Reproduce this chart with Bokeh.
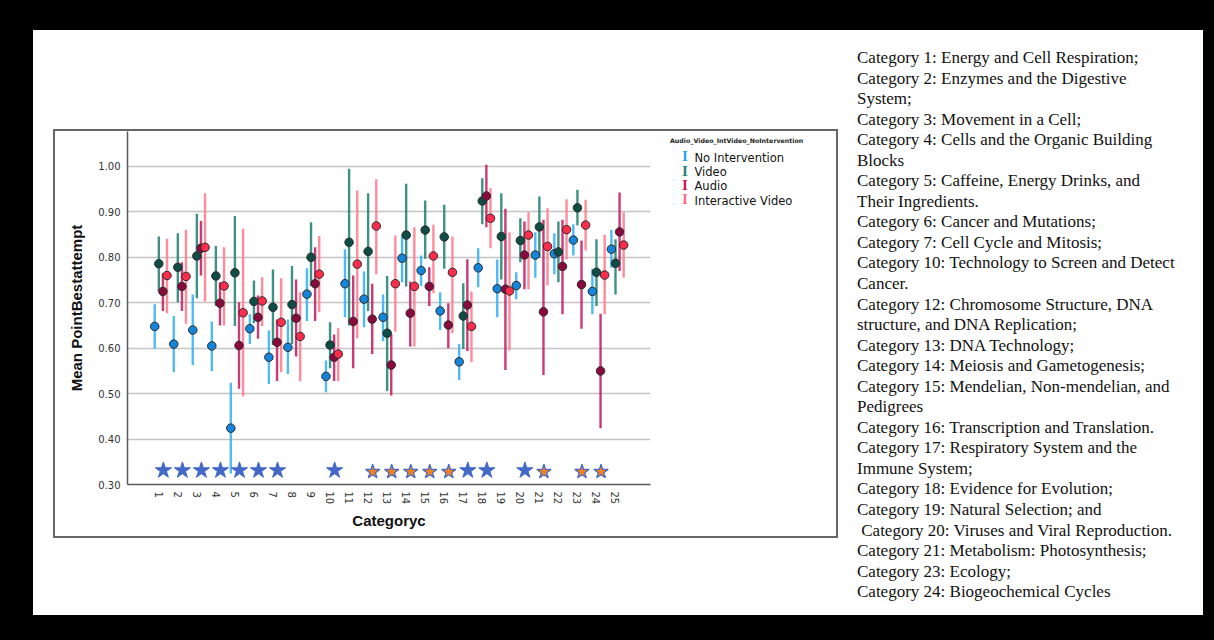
import math
from bokeh.plotting import figure
from bokeh.models import Range1d, FixedTicker, NumeralTickFormatter, ColumnDataSource, Div, Spacer
from bokeh.layouts import row, column
from bokeh.embed import file_html
from bokeh.resources import INLINE

# ---------------- data ----------------
categories = list(range(1, 26))
groups = ["No Intervention", "Video", "Audio", "Interactive Video"]
legend_title = "Audio_Video_IntVideo_NoIntervention"

no_int_mean = [0.648, 0.609, 0.640, 0.605, 0.424, 0.643, 0.580, 0.602, 0.719, 0.538, 0.742, 0.708, 0.668,
               0.798, 0.771, 0.682, 0.570, 0.777, 0.731, 0.738, 0.805, 0.808, 0.838, 0.725, 0.818]
no_int_lo = [0.599, 0.547, 0.563, 0.550, 0.324, 0.609, 0.521, 0.543, 0.660, 0.503, 0.668, 0.646, 0.616,
             0.745, 0.737, 0.640, 0.530, 0.734, 0.668, 0.708, 0.755, 0.763, 0.804, 0.675, 0.777]
no_int_hi = [0.697, 0.671, 0.718, 0.659, 0.524, 0.675, 0.639, 0.663, 0.776, 0.573, 0.818, 0.769, 0.718,
             0.850, 0.804, 0.723, 0.609, 0.820, 0.795, 0.767, 0.855, 0.853, 0.873, 0.775, 0.860]

video_mean = [0.786, 0.778, 0.803, 0.759, 0.766, 0.703, 0.690, 0.696, 0.800, 0.607, 0.833, 0.813, 0.633,
              0.849, 0.860, 0.845, 0.671, 0.924, 0.846, 0.837, 0.867, 0.812, 0.909, 0.767, 0.787]
video_lo = [0.726, 0.701, 0.710, 0.693, 0.649, 0.655, 0.607, 0.609, 0.737, 0.556, 0.650, 0.682, 0.506,
            0.736, 0.797, 0.775, 0.598, 0.873, 0.751, 0.789, 0.799, 0.745, 0.870, 0.693, 0.718]
video_hi = [0.846, 0.853, 0.896, 0.825, 0.891, 0.749, 0.773, 0.781, 0.877, 0.657, 0.995, 0.941, 0.759,
            0.962, 0.925, 0.916, 0.743, 0.974, 0.941, 0.886, 0.934, 0.879, 0.949, 0.840, 0.840]

audio_mean = [0.725, 0.736, 0.820, 0.699, 0.606, 0.668, 0.613, 0.666, 0.742, 0.580, 0.659, 0.664, 0.563,
              0.677, 0.736, 0.651, 0.695, 0.935, 0.730, 0.805, 0.680, 0.780, 0.740, 0.550, 0.856]
audio_lo = [0.682, 0.682, 0.760, 0.650, 0.511, 0.621, 0.528, 0.582, 0.660, 0.528, 0.556, 0.587, 0.496,
            0.604, 0.693, 0.600, 0.594, 0.866, 0.552, 0.730, 0.541, 0.675, 0.643, 0.424, 0.770]
audio_hi = [0.765, 0.789, 0.880, 0.745, 0.701, 0.716, 0.663, 0.751, 0.822, 0.630, 0.760, 0.742, 0.631,
            0.747, 0.778, 0.699, 0.796, 1.004, 0.907, 0.879, 0.883, 0.883, 0.837, 0.676, 0.943]

intvid_mean = [0.760, 0.758, 0.822, 0.737, 0.678, 0.704, 0.657, 0.626, 0.763, 0.587, 0.785, 0.869, 0.742,
               0.736, 0.803, 0.767, 0.648, 0.886, 0.726, 0.849, 0.824, 0.861, 0.871, 0.761, 0.827]
intvid_lo = [0.677, 0.654, 0.703, 0.650, 0.494, 0.649, 0.547, 0.527, 0.679, 0.527, 0.622, 0.763, 0.637,
             0.604, 0.721, 0.633, 0.569, 0.820, 0.595, 0.730, 0.738, 0.795, 0.815, 0.675, 0.755]
intvid_hi = [0.841, 0.861, 0.941, 0.822, 0.863, 0.756, 0.754, 0.723, 0.847, 0.644, 0.947, 0.972, 0.848,
             0.866, 0.872, 0.846, 0.725, 0.952, 0.855, 0.899, 0.908, 0.928, 0.927, 0.850, 0.899]

blue_star_cats = [1, 2, 3, 4, 5, 6, 7, 10, 17, 18, 20]
orange_star_cats = [12, 13, 14, 15, 16, 21, 23, 24]
star_level = 0.331

y_ticks = [0.30, 0.40, 0.50, 0.60, 0.70, 0.80, 0.90, 1.00]

category_notes = [
    "Category 1: Energy and Cell Respiration;",
    "Category 2: Enzymes and the Digestive",
    "System;",
    "Category 3: Movement in a Cell;",
    "Category 4: Cells and the Organic Building",
    "Blocks",
    "Category 5: Caffeine, Energy Drinks, and",
    "Their Ingredients.",
    "Category 6: Cancer and Mutations;",
    "Category 7: Cell Cycle and Mitosis;",
    "Category 10: Technology to Screen and Detect",
    "Cancer.",
    "Category 12: Chromosome Structure, DNA",
    "structure, and DNA Replication;",
    "Category 13: DNA Technology;",
    "Category 14: Meiosis and Gametogenesis;",
    "Category 15: Mendelian, Non-mendelian, and",
    "Pedigrees",
    "Category 16: Transcription and Translation.",
    "Category 17: Respiratory System and the",
    "Immune System;",
    "Category 18: Evidence for Evolution;",
    "Category 19: Natural Selection; and",
    "&nbsp;Category 20: Viruses and Viral Reproduction.",
    "Category 21: Metabolism: Photosynthesis;",
    "Category 23: Ecology;",
    "Category 24: Biogeochemical Cycles",
]

series = [
    (no_int_mean, no_int_lo, no_int_hi),
    (video_mean, video_lo, video_hi),
    (audio_mean, audio_lo, audio_hi),
    (intvid_mean, intvid_lo, intvid_hi),
]

# ---------------- styles ----------------
point_colors = ["#1386dc", "#0e4d45", "#8a0a3d", "#ff2d4c"]
bar_colors = ["#3cb2f2", "#2a8577", "#c42566", "#ff8090"]
legend_colors = ["#29a6ee", "#2a7f74", "#c2185b", "#ff6b80"]
offsets = [-0.215, 0.0, 0.215, 0.43]
box_color = "#666666"

p = figure(width=598, height=405, x_range=Range1d(-0.645, 26.84), y_range=Range1d(0.30, 1.077),
           output_backend="svg", toolbar_location=None, tools="", margin=0,
           min_border_left=72, min_border_right=3, min_border_top=0, min_border_bottom=52)
p.outline_line_color = None
p.background_fill_color = "white"
p.border_fill_color = "white"

p.xaxis.ticker = FixedTicker(ticks=categories)
p.xaxis.major_label_orientation = -math.pi / 2
p.yaxis.ticker = FixedTicker(ticks=y_ticks)
p.yaxis.formatter = NumeralTickFormatter(format="0.00")
p.xgrid.visible = False
p.ygrid.grid_line_color = "#c4c4c4"
p.ygrid.grid_line_width = 1.5

for ax in (p.xaxis, p.yaxis):
    ax.major_tick_line_color = None
    ax.minor_tick_line_color = None
    ax.axis_line_color = "#5a5a5a"
    ax.axis_line_width = 1.5
    ax.major_label_text_font = "DejaVu Sans"
    ax.major_label_text_font_size = "10px"
    ax.major_label_text_color = "#333333"
    ax.major_label_standoff = 1
    ax.axis_label_text_font = "Liberation Sans"
    ax.axis_label_text_font_style = "bold"
    ax.axis_label_text_font_size = "15px"
    ax.axis_label_text_color = "#111111"

p.yaxis.axis_label = "Mean PointBestattempt"
p.yaxis.axis_label_standoff = 10
p.xaxis.axis_label = "Categoryc"
p.xaxis.axis_label_standoff = 5

for i, (m, lo, hi) in enumerate(series):
    xs = [c + offsets[i] for c in categories]
    src = ColumnDataSource(dict(x=xs, m=m, lo=lo, hi=hi))
    p.segment(x0="x", y0="lo", x1="x", y1="hi", source=src, line_color=bar_colors[i],
              line_width=2.4, line_alpha=0.9)

for i, (m, lo, hi) in enumerate(series):
    xs = [c + offsets[i] for c in categories]
    src = ColumnDataSource(dict(x=xs, m=m))
    p.scatter(x="x", y="m", source=src, size=8.5, fill_color=point_colors[i],
              line_color="#2a2a2a", line_width=1)

p.scatter(x=[c + 0.24 for c in blue_star_cats], y=[star_level] * len(blue_star_cats), marker="star",
          size=17, fill_color="#4468c8", line_color="#4468c8", line_width=1)
p.scatter(x=[c + 0.24 for c in orange_star_cats], y=[star_level - 0.003] * len(orange_star_cats),
          marker="star", size=15, fill_color="#f2811f", line_color="#4468c8", line_width=1.2)

# ---------------- legend (inside chart box) ----------------
items = []
for i, (lab, col) in enumerate(zip(groups, legend_colors)):
    top = 19.5 + i * 14.45
    items.append(
        f'<div style="position:absolute;left:29px;top:{top - 1.5:.1f}px;font-family:\'Liberation Serif\';'
        f'font-size:15px;font-weight:bold;line-height:15px;color:{col};">I</div>'
        f'<div style="position:absolute;left:41.5px;top:{top:.1f}px;font-family:\'DejaVu Sans\';'
        f'font-size:11.5px;line-height:14px;color:#111;white-space:nowrap;">{lab}</div>')
legend_html = (
    '<div style="position:relative;width:183px;height:405px;">'
    f'<div style="position:absolute;left:17px;top:6px;font-family:\'DejaVu Sans\';font-weight:bold;'
    f'font-size:6.3px;line-height:7px;color:#222;white-space:nowrap;">{legend_title}</div>'
    + "".join(items) + '</div>')
legend_div = Div(text=legend_html, width=183, height=405, margin=0)


def fill(w, h, color):
    return Div(text="", width=w, height=h, margin=0, styles={"background-color": color})


def gap(w, h):
    return Spacer(width=w, height=h, margin=0)


chart_box = column(
    fill(785, 2, box_color),
    row(fill(2, 405, box_color), p, legend_div, fill(2, 405, box_color), margin=0),
    fill(785, 2, box_color),
    margin=0)

text_html = ('<div style="font-family:\'Liberation Serif\';font-size:17px;line-height:20.55px;'
             'color:#111;white-space:nowrap;">' + "<br>".join(category_notes) + '</div>')
text_div = Div(text=text_html, width=346, height=560, margin=0)

left_col = column(gap(785, 99), chart_box, gap(785, 77), margin=0)
text_col = column(gap(346, 18), text_div, gap(346, 7), margin=0)
white_panel = row(gap(20, 585), left_col, gap(19, 585), text_col, margin=0)
middle = row(fill(33, 585, "#000000"), white_panel, fill(11, 585, "#000000"), margin=0)
page = column(fill(1214, 30, "#000000"), middle, fill(1214, 25, "#000000"), margin=0)

open("out.html", "w").write(file_html(page, INLINE))
